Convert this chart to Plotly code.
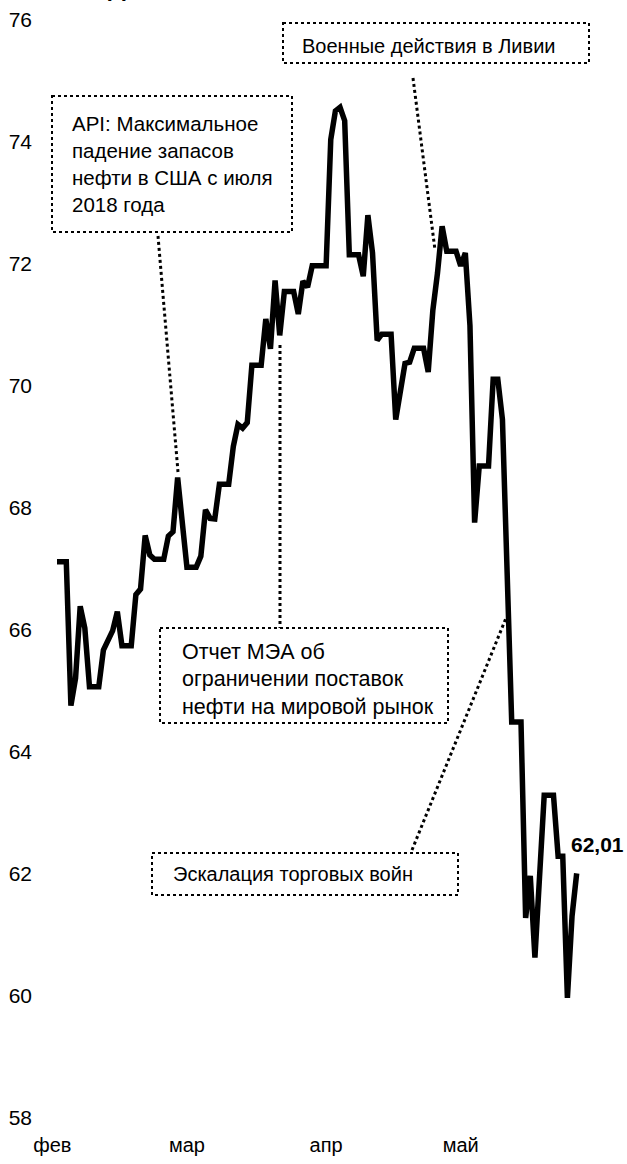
import pandas as pd
import plotly.graph_objects as go

# ---------------- data ----------------
start_date = "2019-02-22"
end_date = "2019-06-14"
brent = [
    # Feb 22-28
    67.12, 67.12, 67.12, 64.76, 65.21, 66.39, 66.03,
    # Mar 1-31
    65.07, 65.07, 65.07, 65.67, 65.86, 65.99, 66.30, 65.74, 65.74, 65.74,
    66.58, 66.67, 67.55, 67.23, 67.16, 67.16, 67.16, 67.54, 67.61, 68.50,
    67.86, 67.03, 67.03, 67.03, 67.21, 67.97, 67.83, 67.82, 68.39, 68.39, 68.39,
    # Apr 1-30
    69.01, 69.37, 69.31, 69.40, 70.34, 70.34, 70.34, 71.10, 70.61, 71.73,
    70.83, 71.55, 71.55, 71.55, 71.18, 71.72, 71.62, 71.97, 71.97, 71.97,
    71.97, 74.04, 74.51, 74.57, 74.35, 72.15, 72.15, 72.15, 71.80, 72.80,
    # May 1-31
    72.18, 70.75, 70.85, 70.85, 70.85, 69.45, 69.90, 70.37, 70.39, 70.62,
    70.62, 70.62, 70.23, 71.24, 71.85, 72.62, 72.21, 72.21, 72.21, 71.97,
    72.18, 70.99, 67.76, 68.69, 68.69, 68.69, 70.11, 70.11, 69.45, 66.87, 64.49,
    # Jun 1-14
    64.49, 64.49, 61.28, 61.97, 60.63, 61.90, 63.29, 63.29, 63.29, 62.29,
    62.29, 59.97, 61.31, 62.01,
]
tick_dates = ["2019-02-21", "2019-03-22", "2019-04-21", "2019-05-20"]
tick_labels = ["фев", "мар", "апр", "май"]
y_ticks = [58, 60, 62, 64, 66, 68, 70, 72, 74, 76]
last_label = "62,01"
title_text = "Динамика"

notes_libya = ["Военные действия в Ливии"]
notes_api = ["API: Максимальное", "падение запасов", "нефти в США с июля", "2018 года"]
notes_iea = ["Отчет МЭА об", "ограничении поставок", "нефти на мировой рынок"]
notes_trade = ["Эскалация торговых войн"]

dates = pd.date_range(start_date, end_date, freq="D")

# ---------------- layout helpers ----------------
W, H = 627, 1164
L, R, T, B = 40, 27, 20, 46
X0PX = 57.0          # pixel of first date
PXDAY = 4.64         # pixels per day
Y_TOP, Y_BOT = 76.0, 58.0
plot_h = H - T - B
PXUNIT = plot_h / (Y_TOP - Y_BOT)

FONT = "Liberation Sans, Arial, sans-serif"


def xd(px):
    return (dates[0] + pd.Timedelta(days=(px - X0PX) / PXDAY)).isoformat()


def yd(py):
    return Y_TOP - (py - T) / PXUNIT


fig = go.Figure()
fig.add_trace(go.Scatter(
    x=dates, y=brent, mode="lines",
    line=dict(color="black", width=5.5),
    hoverinfo="skip", showlegend=False,
))

shapes = []


def box(x0, y0, x1, y1):
    shapes.append(dict(type="rect", xref="x", yref="y",
                       x0=xd(x0), x1=xd(x1), y0=yd(y0), y1=yd(y1),
                       line=dict(color="black", width=2, dash="dot"),
                       fillcolor="rgba(0,0,0,0)", layer="above"))


def leader(x0, y0, x1, y1):
    shapes.append(dict(type="line", xref="x", yref="y",
                       x0=xd(x0), x1=xd(x1), y0=yd(y0), y1=yd(y1),
                       line=dict(color="black", width=3, dash="dot"),
                       layer="above"))


box(283, 23, 589, 63)
leader(413, 78, 435, 250)
box(52, 96, 292, 232)
leader(158, 236, 178, 472)
box(160, 628, 448, 723)
leader(280, 345, 280, 628)
box(152, 853, 458, 895)
leader(412, 850, 506, 618)

annotations = []


def lines(texts, xpx, ypx0, size, step=27.3):
    for i, t in enumerate(texts):
        annotations.append(dict(
            x=xd(xpx), y=yd(ypx0 + i * step), xref="x", yref="y",
            text=t, showarrow=False, xanchor="left", yanchor="middle",
            borderpad=0,
            font=dict(family=FONT, size=size, color="black")))


lines(notes_libya, 301, 46, 20)
lines(notes_api, 71, 123, 20.5)
lines(notes_iea, 181, 652, 21.5)
lines(notes_trade, 172, 874, 20)

annotations.append(dict(
    x=dates[-1], y=brent[-1], xref="x", yref="y", text="<b>" + last_label + "</b>",
    showarrow=False, xanchor="left", yanchor="middle", borderpad=0,
    xshift=-7, yshift=29,
    font=dict(family=FONT, size=21, color="black")))

annotations.append(dict(
    x=xd(107), y=1 + (T - 2) / plot_h, xref="x", yref="paper",
    text="<b>" + title_text + "</b>", showarrow=False,
    xanchor="left", yanchor="bottom", borderpad=0,
    font=dict(family=FONT, size=25, color="black")))

fig.update_layout(
    width=W, height=H,
    margin=dict(l=L, r=R, t=T, b=B, autoexpand=False),
    paper_bgcolor="white", plot_bgcolor="white",
    showlegend=False,
    font=dict(family=FONT, size=20, color="black"),
    shapes=shapes, annotations=annotations,
    xaxis=dict(
        type="date",
        range=[xd(L), xd(W - R)],
        tickmode="array", tickvals=tick_dates, ticktext=tick_labels,
        showgrid=False, zeroline=False, showline=False, ticks="",
        tickfont=dict(family=FONT, size=20, color="black"),
        ticklabelstandoff=13,
        automargin=False,
        fixedrange=True,
    ),
    yaxis=dict(
        range=[Y_BOT, Y_TOP],
        tickmode="array", tickvals=y_ticks,
        ticktext=[str(v) for v in y_ticks],
        showgrid=False, zeroline=False, showline=False, ticks="",
        tickfont=dict(family=FONT, size=21, color="black"),
        ticklabelstandoff=7,
        automargin=False,
        fixedrange=True,
    ),
)

fig.write_html(
    "out.html",
    config={"responsive": False, "displayModeBar": False},
    post_script="document.body.style.margin='0';document.body.style.overflow='hidden';",
)
